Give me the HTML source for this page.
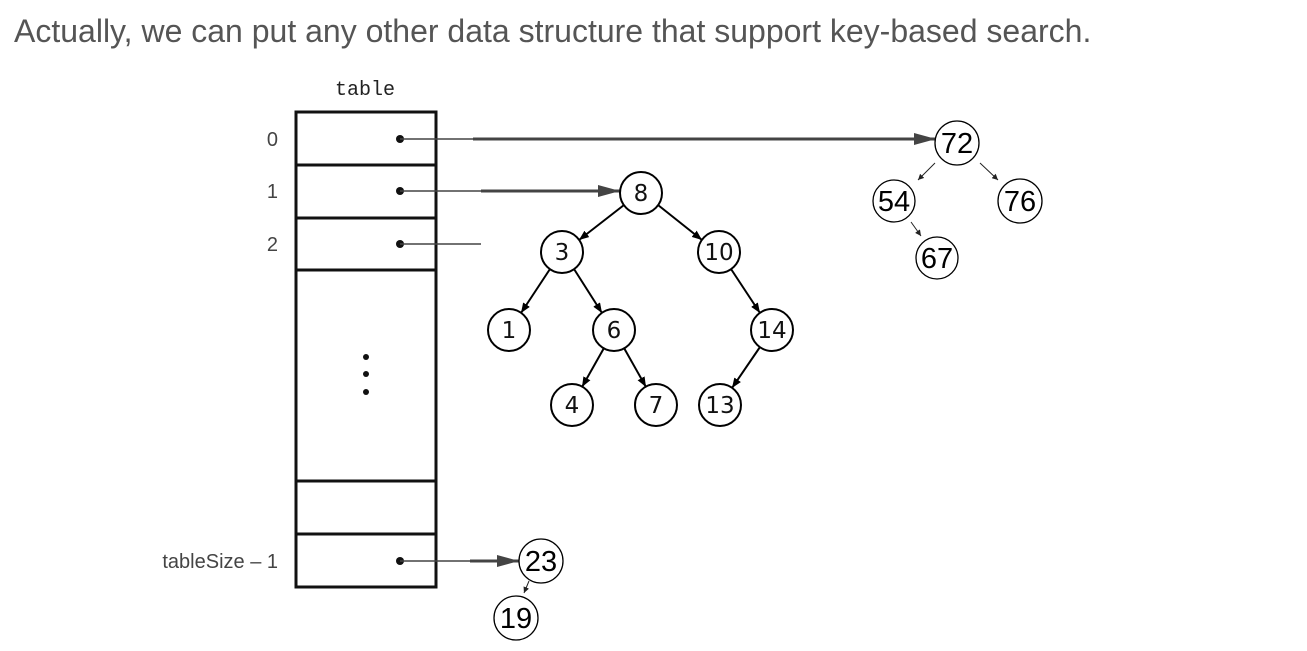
<!DOCTYPE html>
<html><head><meta charset="utf-8"><style>
body{margin:0;background:#fff;width:1307px;height:646px;overflow:hidden}
</style></head><body>
<svg width="1307" height="646" viewBox="0 0 1307 646" xmlns="http://www.w3.org/2000/svg">
<defs>
<marker id="a" markerWidth="10" markerHeight="8" refX="10" refY="4" orient="auto" markerUnits="userSpaceOnUse"><path d="M0,0 L10,4 L0,8 z" fill="#000"/></marker>
<marker id="g" markerWidth="22" markerHeight="12" refX="22" refY="6" orient="auto" markerUnits="userSpaceOnUse"><path d="M0,0 L22,6 L0,12 z" fill="#444"/></marker>
<marker id="s" markerWidth="6" markerHeight="6" refX="6" refY="3" orient="auto" markerUnits="userSpaceOnUse"><path d="M0,0 L6,3 L0,6 z" fill="#222"/></marker>
</defs>
<text x="14" y="42" font-family="Liberation Sans, sans-serif" font-size="32" fill="#555">Actually, we can put any other data structure that support key-based search.</text>
<text x="365" y="95" text-anchor="middle" font-family="Liberation Mono, monospace" font-size="20" fill="#222">table</text>
<g fill="none" stroke="#111" stroke-width="3">
<rect x="296" y="112" width="140" height="475"/>
<line x1="296" y1="165" x2="436" y2="165"/><line x1="296" y1="218" x2="436" y2="218"/>
<line x1="296" y1="270" x2="436" y2="270"/><line x1="296" y1="481" x2="436" y2="481"/>
<line x1="296" y1="534" x2="436" y2="534"/>
</g>
<g fill="#111"><circle cx="400" cy="139" r="4"/><circle cx="400" cy="191" r="4"/><circle cx="400" cy="244" r="4"/><circle cx="400" cy="561" r="4"/>
<circle cx="366" cy="357" r="3"/><circle cx="366" cy="374" r="3"/><circle cx="366" cy="392" r="3"/></g>
<g font-family="Liberation Sans, sans-serif" font-size="20" fill="#444" text-anchor="end">
<text x="278" y="146">0</text><text x="278" y="198">1</text><text x="278" y="251">2</text><text x="278" y="568">tableSize – 1</text></g>
<g stroke="#444" stroke-width="1.5"><line x1="400" y1="139" x2="473" y2="139"/><line x1="400" y1="191" x2="481" y2="191"/><line x1="400" y1="244" x2="481" y2="244"/><line x1="400" y1="561" x2="470" y2="561"/></g>
<g stroke="#444" stroke-width="3">
<line x1="473" y1="139" x2="936" y2="139" marker-end="url(#g)"/>
<line x1="481" y1="191" x2="620" y2="191" marker-end="url(#g)"/>
<line x1="470" y1="561" x2="519" y2="561" marker-end="url(#g)"/>
</g>
<g stroke="#000" stroke-width="2">
<line x1="624" y1="205" x2="579" y2="240" marker-end="url(#a)"/>
<line x1="658" y1="205" x2="702" y2="240" marker-end="url(#a)"/>
<line x1="550" y1="269" x2="521" y2="313" marker-end="url(#a)"/>
<line x1="574" y1="269" x2="602" y2="313" marker-end="url(#a)"/>
<line x1="731" y1="269" x2="760" y2="313" marker-end="url(#a)"/>
<line x1="604" y1="348" x2="582" y2="387" marker-end="url(#a)"/>
<line x1="624" y1="348" x2="646" y2="387" marker-end="url(#a)"/>
<line x1="760" y1="347" x2="732" y2="388" marker-end="url(#a)"/>
</g>
<g stroke="#222" stroke-width="1">
<line x1="935" y1="163" x2="918" y2="180" marker-end="url(#s)"/>
<line x1="980" y1="163" x2="998" y2="180" marker-end="url(#s)"/>
<line x1="911" y1="222" x2="921" y2="236" marker-end="url(#s)"/>
<line x1="529" y1="581" x2="524" y2="593" marker-end="url(#s)"/>
</g>
<g fill="#fff" stroke="#000" stroke-width="2">
<circle cx="641" cy="193" r="21"/><circle cx="562" cy="252" r="21"/><circle cx="719" cy="252" r="21"/>
<circle cx="509" cy="330" r="21"/><circle cx="614" cy="330" r="21"/><circle cx="772" cy="330" r="21"/>
<circle cx="572" cy="405" r="21"/><circle cx="656" cy="405" r="21"/><circle cx="720" cy="405" r="21"/>
</g>
<g fill="#fff" stroke="#000" stroke-width="1.3">
<circle cx="957" cy="143" r="22"/><circle cx="894" cy="201" r="21"/><circle cx="1020" cy="201" r="22"/><circle cx="937" cy="258" r="21"/>
<circle cx="541" cy="561" r="22"/><circle cx="516" cy="618" r="22"/>
</g>
<g font-family="DejaVu Sans, sans-serif" font-size="23" fill="#111" text-anchor="middle">
<text x="641" y="201">8</text><text x="562" y="260">3</text><text x="719" y="260">10</text>
<text x="509" y="338">1</text><text x="614" y="338">6</text><text x="772" y="338">14</text>
<text x="572" y="413">4</text><text x="656" y="413">7</text><text x="720" y="413">13</text>
</g>
<g font-family="Liberation Sans, sans-serif" font-size="29" fill="#000" text-anchor="middle">
<text x="957" y="153">72</text><text x="894" y="211">54</text><text x="1020" y="211">76</text><text x="937" y="268">67</text>
<text x="541" y="571">23</text><text x="516" y="628">19</text>
</g>
</svg>
</body></html>
